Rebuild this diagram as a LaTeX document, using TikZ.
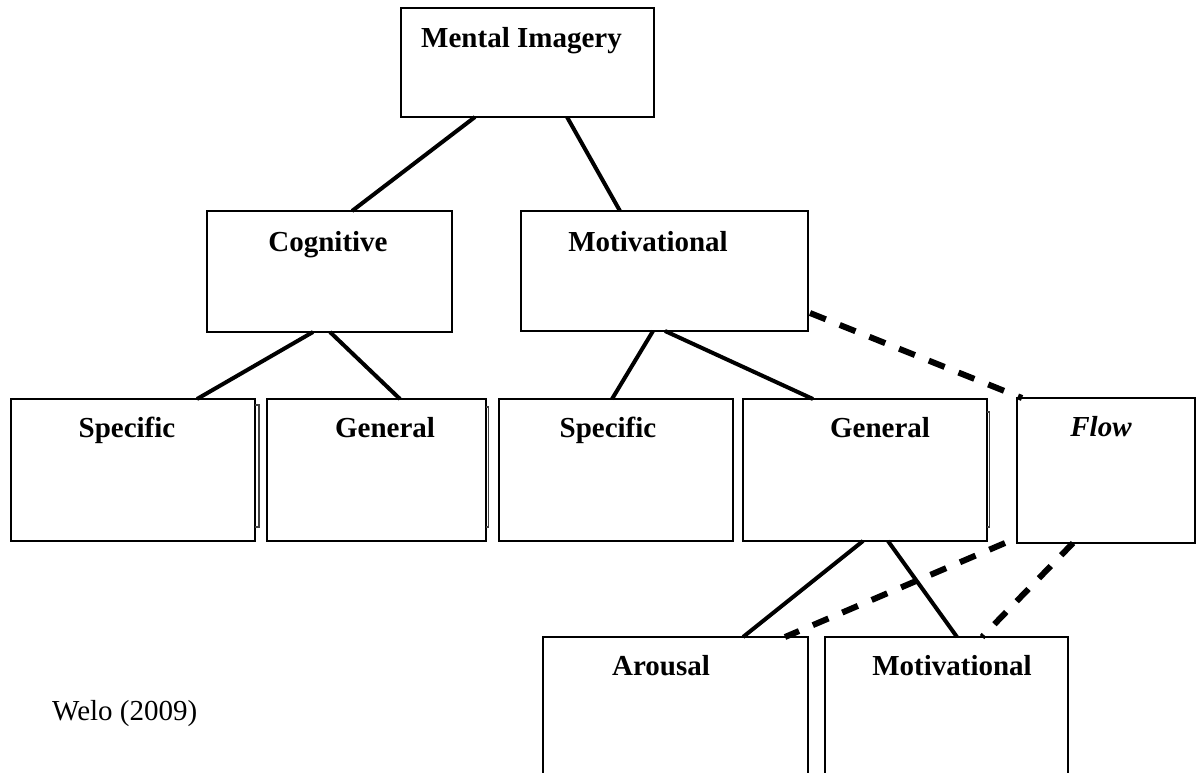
\documentclass[tikz,border=0pt]{standalone}
\usepackage{fontspec}
\setmainfont{Liberation Serif}
\usetikzlibrary{calc}
\begin{document}
\begin{tikzpicture}[x=1pt,y=-1pt,
  box/.style={draw, line width=2.4pt, rectangle, inner sep=0pt, outer sep=0pt, anchor=north west},
  ttl/.style={font=\fontsize{29}{34}\selectfont\bfseries, anchor=base, inner sep=0pt},
  plain/.style={font=\fontsize{29}{34}\selectfont, anchor=base west, inner sep=0pt},
  link/.style={line width=4pt},
  flowlink/.style={line width=6pt, dash pattern=on 17pt off 15pt},
  shade/.style={line width=1.1pt, draw=black!75}]
\useasboundingbox (0,0) rectangle (1196,772);
\clip (0,0) rectangle (1196,772);

% boxes
\node[box, minimum width=253pt, minimum height=109pt] (mi) at (401,8) {};
\node[box, minimum width=245pt, minimum height=121pt] (cog) at (207,211) {};
\node[box, minimum width=287pt, minimum height=120pt] (mot) at (521,211) {};
\node[box, minimum width=244pt, minimum height=142pt] (spec1) at (11,399) {};
\node[box, minimum width=219pt, minimum height=142pt] (gen1) at (267,399) {};
\node[box, minimum width=234pt, minimum height=142pt] (spec2) at (499,399) {};
\node[box, minimum width=244pt, minimum height=142pt] (gen2) at (743,399) {};
\node[box, minimum width=178pt, minimum height=145pt] (flow) at (1017,398) {};
\node[box, minimum width=265pt, minimum height=200pt] (arou) at (543,637) {};
\node[box, minimum width=243pt, minimum height=200pt] (mot2) at (825,637) {};

% thin shadow edges
\draw[shade] ($(spec1.north east)+(0,6)$) -| ($(spec1.south east)+(4,-14)$) -- ($(spec1.south east)+(0,-14)$);
\draw[shade] ($(gen1.north east)+(0,8)$) -| ($(gen1.south east)+(2.5,-14)$) -- ($(gen1.south east)+(0,-14)$);
\draw[shade] ($(gen2.north east)+(0,13)$) -| ($(gen2.south east)+(2.5,-14)$) -- ($(gen2.south east)+(0,-14)$);

% titles
\node[ttl] (mi-t) at (521.5,47) {Mental Imagery};
\node[ttl] (cog-t) at (328,251) {Cognitive};
\node[ttl] (mot-t) at (648,251) {Motivational};
\node[ttl] (spec1-t) at (127,437) {Specific};
\node[ttl] (gen1-t) at (385,437) {General};
\node[ttl] (spec2-t) at (608,437) {Specific};
\node[ttl] (gen2-t) at (880,437) {General};
\node[ttl, font=\fontsize{29}{34}\selectfont\bfseries\itshape] (flow-t) at (1101,436) {Flow};
\node[ttl] (arou-t) at (661,675) {Arousal};
\node[ttl] (mot2-t) at (952,675) {Motivational};
\node[plain] (welo) at (52,720) {Welo (2009)};

% solid connectors
\draw[link] ($(mi.south west)+(74,0)$) -- ($(cog.north west)+(145,0)$);
\draw[link] ($(mi.south west)+(166,0)$) -- ($(mot.north west)+(99,0)$);
\draw[link] ($(cog.south west)+(106,0)$) -- ($(spec1.north west)+(186,0)$);
\draw[link] ($(cog.south west)+(123,0)$) -- ($(gen1.north west)+(133,0)$);
\draw[link] ($(mot.south west)+(132,0)$) -- ($(spec2.north west)+(113,0)$);
\draw[link] ($(mot.south west)+(144,0)$) -- ($(gen2.north west)+(70,0)$);
\draw[link] ($(gen2.south west)+(120,0)$) -- ($(arou.north west)+(200,0)$);
\draw[link] ($(gen2.south west)+(145,0)$) -- ($(mot2.north west)+(132,0)$);

% dashed connectors to Flow
\draw[flowlink] ($(mot.south east)+(2,-18)$) -- ($(flow.north west)+(5,0)$);
\draw[flowlink] ($(flow.south west)+(-12,0)$) -- ($(arou.north west)+(242,0)$);
\draw[flowlink] ($(flow.south west)+(56,0)$) -- ($(mot2.north west)+(157,0)$);
\end{tikzpicture}
\end{document}
